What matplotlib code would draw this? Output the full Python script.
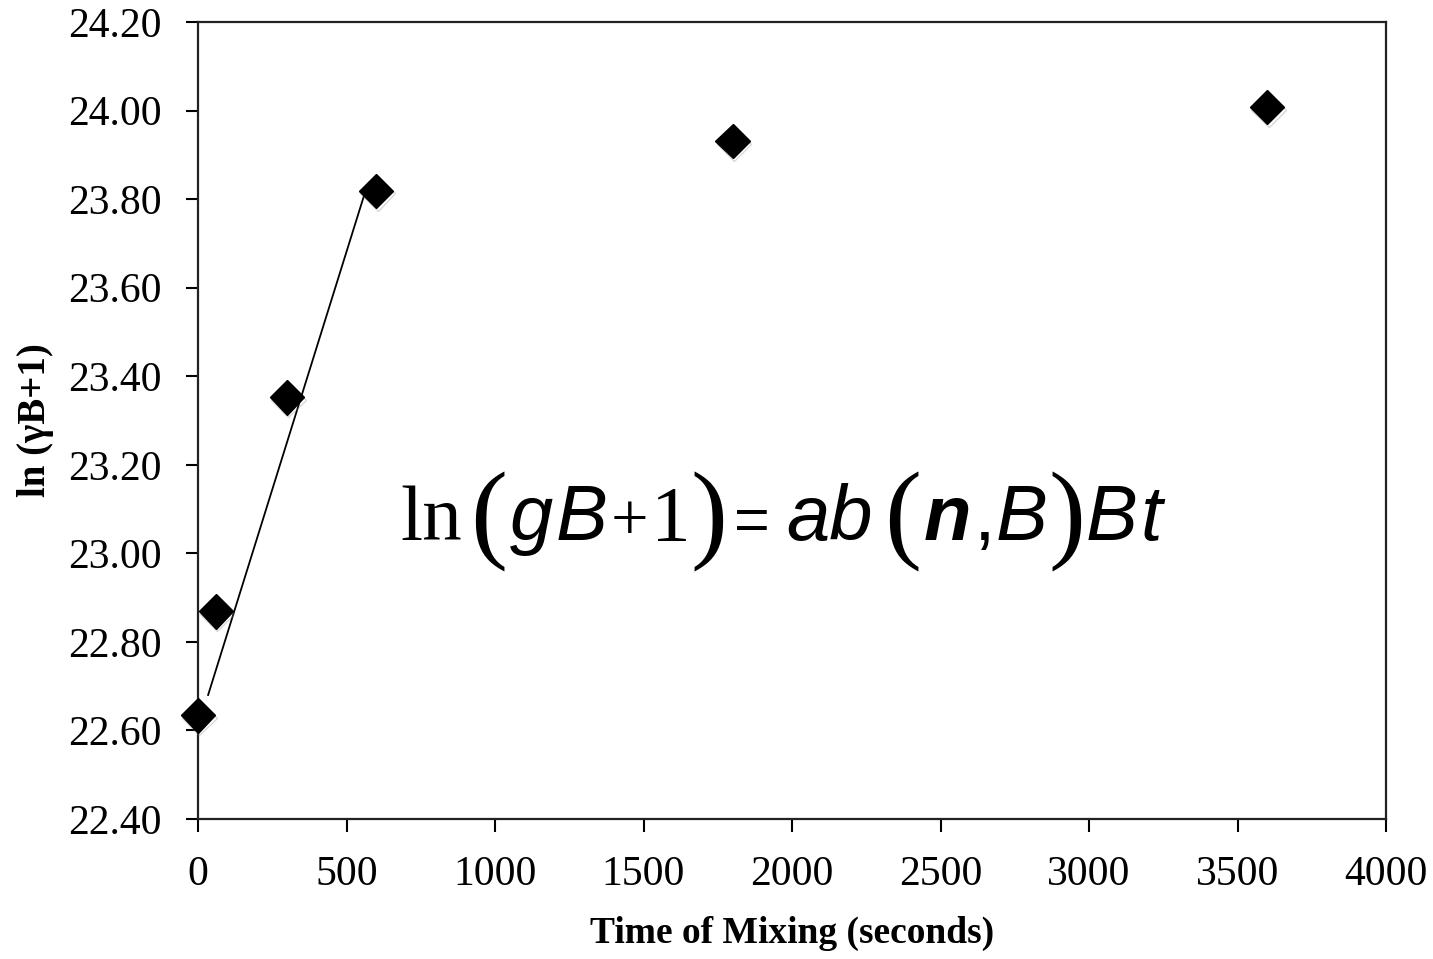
import matplotlib
matplotlib.use("Agg")
import matplotlib.pyplot as plt
import matplotlib.patheffects as pe
import numpy as np

# measured values
time_s = [0, 60, 300, 600, 1800, 3600]
ln_gb = [22.634, 22.869, 23.352, 23.819, 23.931, 24.008]

# straight line through the early mixing stage
fit_t = [34, 560]
fit_y = [22.680, 23.810]

x_ticks = np.arange(0, 4001, 500)
y_ticks = np.arange(22.40, 24.201, 0.20)

plt.rcParams["font.family"] = ["Liberation Serif", "DejaVu Serif"]

W, H = 1433, 959
fig = plt.figure(figsize=(W / 100, H / 100), dpi=100)
ax = fig.add_axes([198 / W, 1 - 819 / H, (1386 - 198) / W, (819 - 22) / H])

ax.plot(fit_t, fit_y, color="black", lw=1.3, zorder=2)
ax.plot(time_s, ln_gb, linestyle="none", marker="D", markersize=17.5,
        color="black", clip_on=False, zorder=3,
        path_effects=[pe.SimpleLineShadow(offset=(1, -2), shadow_color="gray", alpha=0.3),
                      pe.Normal()])

ax.set_xlim(0, 4000)
ax.set_ylim(22.40, 24.20)
ax.set_xticks(x_ticks)
ax.set_yticks(y_ticks)
ax.set_xticklabels([str(v) for v in x_ticks])
ax.set_yticklabels([f"{v:.2f}" for v in y_ticks])
ax.tick_params(direction="out", length=9, width=1.5, labelsize=30, colors="black")
ax.tick_params(axis="y", pad=17)
ax.tick_params(axis="x", pad=17)
for s in ax.spines.values():
    s.set_linewidth(1.6)
    s.set_color("#222222")

ax.set_xlabel("Time of Mixing (seconds)", fontsize=27, fontweight="bold", labelpad=16)
ax.set_ylabel("ln (\u03b3B+1)", fontsize=28, fontweight="bold", labelpad=10)

# equation drawn piece by piece
base = 1 - 540 / H
paren_base = 1 - 548 / H
sans = ["Liberation Sans", "DejaVu Sans"]
serif = ["Liberation Serif", "DejaVu Serif"]
pieces = [
    ("ln", 400, serif, "normal", "normal", 57),
    ("(", 470, serif, "normal", "normal", 80),
    ("g", 510, sans, "italic", "normal", 56),
    ("B", 556, sans, "italic", "normal", 56),
    ("+", 611, serif, "normal", "normal", 48),
    ("1", 651, serif, "normal", "normal", 57),
    (")", 690, serif, "normal", "normal", 80),
    ("=", 734, sans, "normal", "normal", 44),
    ("ab", 786, sans, "italic", "normal", 56),
    ("(", 884, serif, "normal", "normal", 80),
    ("n", 924, sans, "italic", "bold", 56),
    (",", 974, sans, "normal", "normal", 56),
    ("B", 996, sans, "italic", "normal", 56),
    (")", 1048, serif, "normal", "normal", 80),
    ("B", 1086, sans, "italic", "normal", 56),
    ("t", 1140, sans, "italic", "normal", 56),
]
for txt, px, fam, style, weight, size in pieces:
    yb = paren_base if size >= 70 else base
    fig.text(px / W, yb, txt, family=fam, style=style, fontweight=weight,
             fontsize=size, ha="left", va="baseline", color="black")

fig.savefig("out.png", dpi=100, facecolor="white")
